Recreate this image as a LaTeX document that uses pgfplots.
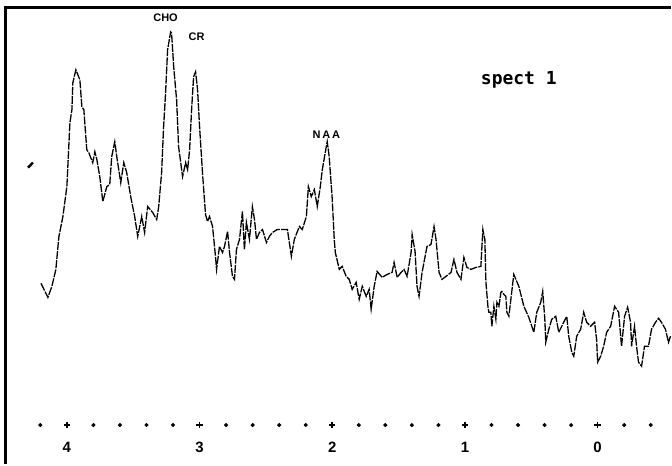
\documentclass[border=0pt]{standalone}
\usepackage{fontspec}
\setmainfont{Liberation Sans}
\newfontfamily\monob{DejaVu Sans Mono}
\usepackage{pgfplots}
\pgfplotsset{compat=1.18}
\begin{document}
\begin{tikzpicture}
\begin{axis}[
  scale only axis, width=336pt, height=232.5pt,
  x dir=reverse, xmin=-0.549, xmax=4.504, ymin=0, ymax=465,
  axis line style={draw=none}, tick style={draw=none},
  ytick=\empty, xtick={4,3,2,1,0},
  xticklabel style={anchor=center, yshift=8.5pt, font=\fontsize{7.5}{8}\selectfont\bfseries},
  /pgf/number format/assume math mode=true,
  clip=false,
]
\path (rel axis cs:0,0) rectangle (rel axis cs:1,1);
% frame (left and top)
\draw[line width=1.5pt, black] (axis cs:4.466,0) -- (axis cs:4.466,457) -- (axis cs:-0.549,457);
% ruler dots
\addplot[only marks, mark=*, mark size=0.8pt, black] coordinates {
(4.2,39)(3.8,39)(3.6,39)(3.4,39)(3.2,39)(2.8,39)(2.6,39)(2.4,39)(2.2,39)
(1.8,39)(1.6,39)(1.4,39)(1.2,39)(0.8,39)(0.6,39)(0.4,39)(0.2,39)(-0.2,39)(-0.4,39)};
\addplot[only marks, mark=+, mark size=1.6pt, line width=0.8pt, black] coordinates {
(4,39)(3,39)(2,39)(1,39)(0,39)};
% isolated start
\addplot[black, line width=1.2pt] coordinates {(4.293,297)(4.256,302)};
% spectrum
\addplot[black, line width=0.65pt, dash pattern=on 4pt off 0.6pt] coordinates {
(4.195,181)(4.143,167)(4.113,178)(4.083,195)(4.060,228)(4.030,248)(4.000,278)
(3.977,342)(3.962,355)(3.955,382)(3.932,395)(3.902,385)(3.887,358)(3.872,355)
(3.850,315)(3.835,312)(3.805,302)(3.789,313)(3.774,305)(3.752,288)(3.729,263)
(3.699,278)(3.677,280)(3.662,308)(3.639,323)(3.624,308)(3.594,282)(3.571,302)
(3.549,292)(3.519,268)(3.489,248)(3.466,228)(3.436,248)(3.414,232)(3.391,258)
(3.353,252)(3.323,245)(3.308,258)(3.286,292)(3.271,338)(3.256,372)(3.241,415)
(3.218,433)(3.211,432)(3.195,398)(3.173,365)(3.158,318)(3.135,295)(3.128,288)
(3.105,302)(3.090,295)(3.075,315)(3.060,355)(3.045,388)(3.030,393)(3.015,375)
(3.000,338)(2.977,290)(2.955,250)(2.940,243)(2.925,248)(2.902,238)(2.880,208)
(2.872,195)(2.850,218)(2.827,212)(2.812,218)(2.789,233)(2.774,212)(2.752,188)
(2.737,185)(2.722,215)(2.699,225)(2.677,253)(2.662,215)(2.647,242)(2.624,225)
(2.602,258)(2.586,245)(2.571,225)(2.549,232)(2.526,235)(2.496,222)(2.474,228)
(2.451,232)(2.414,235)(2.376,235)(2.338,235)(2.308,208)(2.286,225)(2.248,238)
(2.226,235)(2.195,248)(2.180,278)(2.158,268)(2.135,275)(2.113,258)(2.090,278)
(2.075,295)(2.053,312)(2.038,323)(2.023,308)(2.000,265)(1.985,225)(1.977,212)
(1.947,195)(1.925,198)(1.895,188)(1.872,185)(1.850,175)(1.820,182)(1.797,165)
(1.774,178)(1.744,168)(1.722,175)(1.707,155)(1.684,178)(1.662,193)(1.624,187)
(1.586,190)(1.549,192)(1.534,202)(1.511,187)(1.481,192)(1.459,195)(1.436,188)
(1.406,212)(1.398,230)(1.376,213)(1.361,178)(1.346,168)(1.323,192)(1.286,218)
(1.256,220)(1.233,238)(1.218,225)(1.195,192)(1.173,185)(1.143,188)(1.105,192)
(1.083,205)(1.060,192)(1.030,185)(1.008,207)(0.985,197)(0.955,195)(0.917,197)
(0.880,198)(0.872,218)(0.865,235)(0.850,225)(0.842,182)(0.827,158)(0.820,152)
(0.805,152)(0.797,138)(0.782,158)(0.767,145)(0.759,162)(0.744,158)(0.729,172)
(0.722,173)(0.707,170)(0.692,168)(0.684,152)(0.669,148)(0.654,165)(0.632,190)
(0.594,178)(0.556,158)(0.519,147)(0.481,132)(0.459,152)(0.429,162)(0.414,173)
(0.398,145)(0.391,122)(0.368,135)(0.346,145)(0.316,148)(0.293,132)(0.256,142)
(0.233,148)(0.218,128)(0.195,112)(0.180,108)(0.158,128)(0.128,135)(0.105,152)
(0.083,142)(0.053,138)(0.023,142)(0.008,125)(0.000,102)(-0.023,108)(-0.045,118)
(-0.068,132)(-0.098,138)(-0.128,158)(-0.158,152)(-0.180,118)(-0.203,148)
(-0.226,157)(-0.248,142)(-0.256,118)(-0.278,138)(-0.293,118)(-0.308,102)
(-0.331,98)(-0.353,118)(-0.383,118)(-0.406,135)(-0.436,142)(-0.459,146)
(-0.481,142)(-0.511,135)(-0.534,122)(-0.549,128)};
% labels
\node[font=\fontsize{5.5}{6}\selectfont\bfseries] at (axis cs:3.256,447) {CHO};
\node[font=\fontsize{5.5}{6}\selectfont\bfseries] at (axis cs:3.023,428) {CR};
\node[font=\fontsize{5.5}{6}\selectfont\bfseries] at (axis cs:2.045,330) {N\,A\,A};
\node[font=\fontsize{9}{10}\selectfont\monob\bfseries] at (axis cs:0.594,385) {spect 1};
\end{axis}
\end{tikzpicture}
\end{document}
